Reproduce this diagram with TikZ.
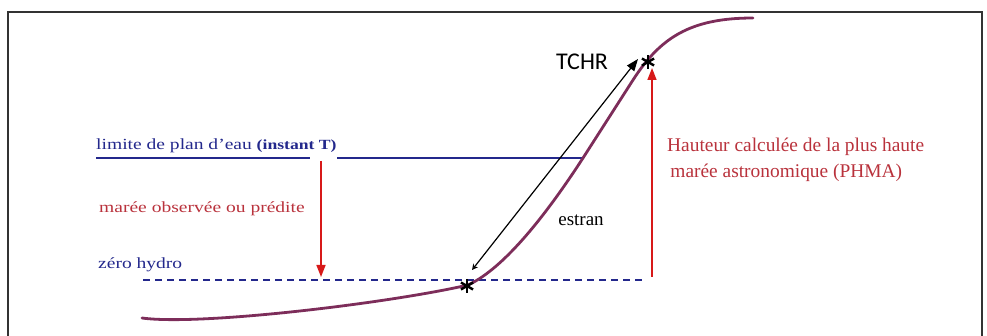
\documentclass[tikz,border=0pt]{standalone}
\usepackage{fontspec}
\setmainfont{Liberation Serif}
\newfontfamily\tchrfont{Carlito}
\usetikzlibrary{arrows.meta}
\definecolor{navy}{RGB}{35,40,140}
\definecolor{tidered}{RGB}{185,50,60}
\definecolor{arrowred}{RGB}{215,25,25}
\definecolor{shore}{RGB}{125,45,90}
\newcommand{\wide}[1]{\scalebox{1.26}[1]{#1}}

\begin{document}
\begin{tikzpicture}[x=1pt,y=-1pt,
  bluetext/.style={navy, anchor=west, inner sep=0pt, font=\fontsize{15.5}{15.5}\selectfont},
  redtext/.style={tidered, anchor=west, inner sep=0pt, align=left, font=\fontsize{19.4}{26}\selectfont},
  redarrow/.style={arrowred, line width=1.5pt, -{Triangle[length=12pt,width=9pt]}},
  starmark/.style={inner sep=0pt, minimum size=14pt}]
\useasboundingbox (0,0) rectangle (987,336);

% frame
\draw[black!80, line width=1.6pt] (8,350) -- (8,12) -- (982,12) -- (982,350);

% water level (instant T)
\node[bluetext] (limite) at (96,146) {\wide{limite de plan d’eau {\bfseries\fontsize{14}{14}\selectfont (instant T)}}};
\coordinate (wl0) at (96,158);
\coordinate (wl1) at (310,158);
\coordinate (wl2) at (337,158);
\coordinate (wl3) at (584,158);
\draw[navy, line width=1.2pt] (wl0) -- (wl1);
\draw[navy, line width=1.2pt] (wl2) -- (wl3);

% zero hydro
\node[bluetext] (zero) at (98,265) {\wide{zéro hydro}};
\coordinate (z0) at (143,280);
\coordinate (z1) at (642,280);
\draw[navy, line width=1.3pt, dash pattern=on 7pt off 5pt] (z0) -- (z1);

% observed tide
\node[redtext, font=\fontsize{15.5}{15.5}\selectfont] (maree) at (99,209) {\wide{marée observée ou prédite}};
\coordinate (mtop) at (321,161);
\coordinate (mbot) at (321,277);
\draw[redarrow] (mtop) -- (mbot);

% shore profile
\draw[shore, line width=2.8pt, line cap=round] (142,318) .. controls (200,326) and (390,303) .. (468,285)
  .. controls (505,268) and (548,212) .. (583,158) -- (633,80)
  .. controls (660,38) and (690,18) .. (753,18);

% stars
\node[starmark] (low) at (467,286) {};
\node[starmark] (high) at (648,62) {};
\foreach \s in {low,high}
  \foreach \a in {90,30,150}
    \draw[black, line width=2.4pt] ([shift={(\a:7pt)}]\s.center) -- ([shift={(\a+180:7pt)}]\s.center);

% TCHR
\coordinate (t0) at (472,270);
\coordinate (t1) at (638,59);
\draw[black, line width=1.2pt, {Stealth[length=6pt,width=6pt,open]}-{Triangle[length=12pt,width=9pt]}] (t0) -- (t1);
\node[inner sep=0pt, font=\tchrfont\fontsize{24}{24}\selectfont] (tchr) at (582,62) {TCHR};
\node[inner sep=0pt, font=\fontsize{19}{19}\selectfont] (estran) at (581,220) {estran};

% PHMA
\coordinate (p0) at (652,277);
\coordinate (p1) at (652,68);
\draw[redarrow] (p0) -- (p1);
\node[redtext] (phma) at (667,160) {Hauteur calculée de la plus haute\\ \,marée astronomique (PHMA)};
\end{tikzpicture}
\end{document}
